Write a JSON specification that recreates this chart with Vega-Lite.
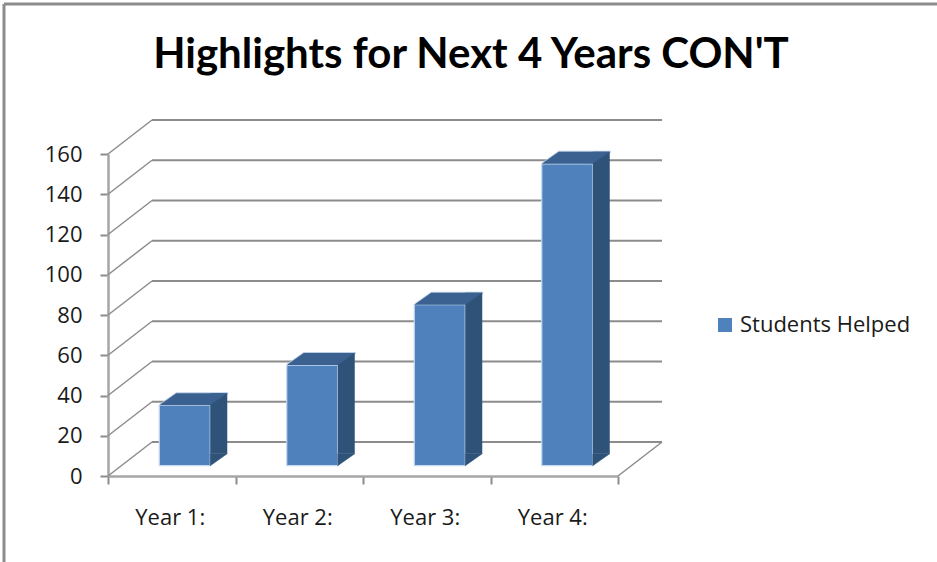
{"$schema":"https://vega.github.io/schema/vega-lite/v6.json","autosize":"none","width":554,"height":356,"padding":{"left":108,"top":120,"right":275,"bottom":86},"background":"white","view":{"stroke":null},
"title":{"text":"Highlights for Next 4 Years CON'T","font":"Lato","fontWeight":"bold","fontSize":42,"color":"#000000","anchor":"middle","frame":"group","dx":86,"offset":-74},
"datasets":{"bars":[{"year":"Year 1:","students":30,"series":"Students Helped"},{"year":"Year 2:","students":50,"series":"Students Helped"},{"year":"Year 3:","students":80,"series":"Students Helped"},{"year":"Year 4:","students":150,"series":"Students Helped"}],
"ticks":[{"tick":0},{"tick":20},{"tick":40},{"tick":60},{"tick":80},{"tick":100},{"tick":120},{"tick":140},{"tick":160}],"floor":[{"tick":0}]},
"config":{"axis":{"labelFont":"Open Sans","labelFontSize":22,"labelColor":"#1a1a1a","title":null,"grid":false,"domainColor":"#a6a6a6","domainWidth":2.5,"tickColor":"#8c8c8c","tickWidth":2,"tickSize":8},"legend":{"labelFont":"Open Sans","labelFontSize":22,"labelColor":"#1a1a1a"}},
"layer":[
{"data":{"name":"ticks"},"mark":{"type":"rule","color":"#8c8c8c","strokeWidth":1.8,"yOffset":-34},"encoding":{"x":{"value":44},"x2":{"value":554},"y":{"field":"tick","type":"quantitative","scale":{"domain":[0,160],"range":[356,34],"nice":false},"axis":{"values":[0,20,40,60,80,100,120,140,160],"labelPadding":18}}}},
{"data":{"name":"ticks"},"mark":{"type":"point","filled":false,"opacity":1,"shape":"M0 0L44 -34","size":4,"stroke":"#8c8c8c","strokeWidth":1.5},"encoding":{"x":{"value":0},"y":{"field":"tick","type":"quantitative"}}},
{"data":{"name":"floor"},"mark":{"type":"point","filled":false,"opacity":1,"shape":"M0 0L44 -34","size":4,"stroke":"#8c8c8c","strokeWidth":1.5},"encoding":{"x":{"value":510},"y":{"field":"tick","type":"quantitative"}}},
{"data":{"name":"bars"},"mark":{"type":"point","filled":true,"opacity":1,"shape":"M0 -1L17 -13L69 -13L69 -11L51 0Z","size":4,"color":"#b9cde5","xOffset":-12.5,"yOffset":-10.3},"encoding":{"x":{"field":"year","type":"nominal","sort":null,"scale":{"type":"band","paddingInner":0,"paddingOuter":0,"range":[0,510]},"axis":{"labelAngle":0,"tickBand":"extent","labelPadding":23,"labelOffset":-2}},"y":{"field":"students","type":"quantitative"}}},
{"data":{"name":"bars"},"mark":{"type":"bar","width":51,"xOffset":13,"yOffset":-10.3,"y2Offset":-10.3,"stroke":"#c6d9f0","strokeWidth":1.2},"encoding":{"x":{"field":"year","type":"nominal","sort":null},"y":{"field":"students","type":"quantitative"},"y2":{"datum":0},"color":{"field":"series","type":"nominal","scale":{"range":["#4f81bd"]},"legend":{"title":null,"orient":"none","legendX":606,"legendY":194,"symbolType":"square","symbolSize":196,"symbolStrokeWidth":0,"labelOffset":4,"labelLimit":260}}}},
{"data":{"name":"bars"},"mark":{"type":"bar","width":17,"xOffset":47,"yOffset":-22.3,"y2Offset":-22.3,"color":"#2f5279"},"encoding":{"x":{"field":"year","type":"nominal","sort":null},"y":{"field":"students","type":"quantitative"},"y2":{"datum":0}}},
{"data":{"name":"bars"},"mark":{"type":"point","filled":true,"opacity":1,"shape":"M0 0L17 -12L0 -12Z","size":4,"color":"#2f5279","stroke":"#2f5279","strokeWidth":0.5,"xOffset":38.5,"yOffset":-10.3},"encoding":{"x":{"field":"year","type":"nominal","sort":null},"y":{"datum":0}}},
{"data":{"name":"bars"},"mark":{"type":"point","filled":true,"opacity":1,"shape":"M0 0L17 -12L68 -12L51 0Z","size":4,"color":"#3a6190","xOffset":-12.5,"yOffset":-10.3},"encoding":{"x":{"field":"year","type":"nominal","sort":null},"y":{"field":"students","type":"quantitative"}}},
{"data":{"name":"floor"},"mark":{"type":"rule","color":"#8c8c8c","strokeWidth":3},"encoding":{"x":{"value":-104},"x2":{"value":829},"y":{"value":-116}}},
{"data":{"name":"floor"},"mark":{"type":"rule","color":"#8c8c8c","strokeWidth":3},"encoding":{"x":{"value":-104},"y":{"value":-116},"y2":{"value":442}}}
]}
